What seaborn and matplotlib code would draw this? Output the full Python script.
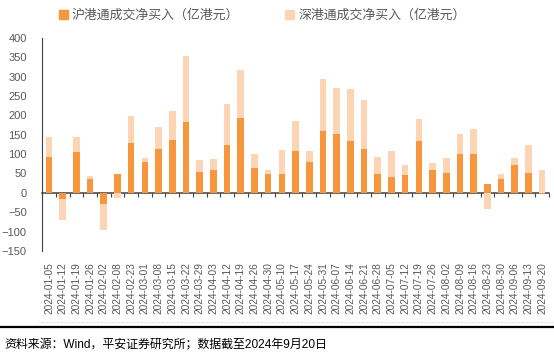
import matplotlib
import matplotlib.pyplot as plt
import numpy as np
import pandas as pd
import seaborn as sns
from matplotlib.lines import Line2D
from matplotlib.patches import Patch

matplotlib.use("Agg")

dates = [
    "2024-01-05", "2024-01-12", "2024-01-19", "2024-01-26", "2024-02-02", "2024-02-08",
    "2024-02-23", "2024-03-01", "2024-03-08", "2024-03-15", "2024-03-22", "2024-03-29",
    "2024-04-03", "2024-04-12", "2024-04-19", "2024-04-26", "2024-04-30", "2024-05-10",
    "2024-05-17", "2024-05-24", "2024-05-31", "2024-06-07", "2024-06-14", "2024-06-21",
    "2024-06-28", "2024-07-05", "2024-07-12", "2024-07-19", "2024-07-26", "2024-08-02",
    "2024-08-09", "2024-08-16", "2024-08-23", "2024-08-30", "2024-09-06", "2024-09-13",
    "2024-09-20",
]
sh_net = [93, -15, 105, 37, -28, 49, 129, 80, 114, 136, 182, 54,
          58, 124, 193, 65, 48, 48, 107, 80, 159, 152, 135, 113,
          48, 41, 45, 135, 58, 50, 101, 101, 22, 37, 71, 50, -4]
sz_net = [50, -54, 40, 6, -68, -12, 69, 11, 55, 76, 170, 31,
          29, 105, 125, 36, 10, 63, 79, 27, 136, 119, 133, 126,
          45, 67, 27, 55, 20, 41, 50, 63, -41, 11, 20, 74, 59]

SH_COLOR = "#F7963C"
SZ_COLOR = "#FDD5B5"
TEXT = "#595959"

sh = np.array(sh_net, dtype=float)
sz = np.array(sz_net, dtype=float)
# light bar reaches the stacked end when both flows share a sign
envelope = np.where(np.sign(sh) == np.sign(sz), sh + sz, sz)
df = pd.DataFrame({"date": dates, "sh": sh, "envelope": envelope})

sns.set_style("white")
plt.rcParams["font.family"] = ["Liberation Sans", "Noto Sans CJK SC", "DejaVu Sans"]

fig = plt.figure(figsize=(5.54, 3.54), dpi=100)
ax = fig.add_axes([0.076, 0.291, 0.915, 0.602])

sns.barplot(data=df, x="date", y="envelope", color=SZ_COLOR, width=0.48,
            saturation=1, linewidth=0, ax=ax)
sns.barplot(data=df, x="date", y="sh", color=SH_COLOR, width=0.48,
            saturation=1, linewidth=0, ax=ax)

ax.set_xlim(-0.5, len(dates) - 0.5)
ax.set_ylim(-150, 400)
ax.set_yticks(np.arange(-150, 401, 50))
ax.set_xlabel("")
ax.set_ylabel("")
ax.tick_params(axis="y", direction="in", length=4, width=0.8, colors="#404040",
               labelsize=8, labelcolor=TEXT, pad=11)
ax.tick_params(axis="x", length=0, labelsize=7.3, labelcolor=TEXT, labelrotation=90, pad=8)
for side in ("top", "right", "bottom"):
    ax.spines[side].set_visible(False)
ax.spines["left"].set_color("#404040")
ax.spines["left"].set_linewidth(0.8)

# category axis drawn through zero
zero_axis = ax.secondary_xaxis(0, transform=ax.transData)
zero_axis.set_xticks(np.arange(-0.5, len(dates), 1.0))
zero_axis.set_xticklabels([])
zero_axis.tick_params(direction="out", length=3, width=0.8, colors="#404040")
zero_axis.spines["bottom"].set_color("#404040")
zero_axis.spines["bottom"].set_linewidth(1.1)

handles = [Patch(color=SH_COLOR), Patch(color=SZ_COLOR)]
fig.legend(handles, ["沪港通成交净买入（亿港元）", "深港通成交净买入（亿港元）"],
           loc="center", bbox_to_anchor=(0.473, 0.955), ncol=2, frameon=False,
           fontsize=9.3, labelcolor=TEXT, handlelength=0.7, handleheight=0.7,
           handletextpad=0.3, columnspacing=3.6)

fig.add_artist(Line2D([0.0, 1.0], [0.077, 0.077], color="#000000", linewidth=1.6,
                      transform=fig.transFigure))
fig.add_artist(Line2D([0.07, 1.0], [0.09, 0.09], color="#BBBBBB", linewidth=0.6,
                      linestyle=(0, (1, 2)), transform=fig.transFigure))
fig.text(0.008, 0.025, "资料来源：Wind，平安证券研究所；数据截至2024年9月20日",
         fontsize=8.6, color="#000000", va="center", ha="left")

fig.savefig("out.png", dpi=100)
plt.close(fig)
